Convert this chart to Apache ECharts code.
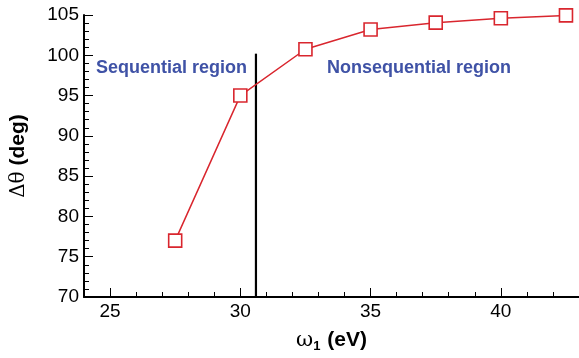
<!DOCTYPE html>
<html><head><meta charset="utf-8">
<script src="https://cdn.jsdelivr.net/npm/echarts@6/dist/echarts.min.js"></script>
<style>html,body{margin:0;padding:0;background:#fff}#c{width:579px;height:358px}</style>
</head><body><div id="c"></div>
<script>
const omega = [27.5, 30, 32.5, 35, 37.5, 40, 42.5];
const dtheta = [77.0, 95.0, 100.75, 103.2, 104.05, 104.6, 104.95];
const xMajorTicks = [25, 30, 35, 40];
const dividerX = 30.6;
const dividerY = [70, 100.2];
const regionLabels = ['Sequential region', 'Nonsequential region'];
const regionPos = [[27.36, 98.4], [36.86, 98.4]];

const chart = echarts.init(document.getElementById('c'));
const font = 'Liberation Sans, Arial, sans-serif';
chart.setOption({
  animation: false,
  grid: {left: 84, right: -2, top: 15, bottom: 59, containLabel: false},
  xAxis: [{
    type: 'value', min: 24, max: 43, interval: 1,
    axisLine: {show: true, lineStyle: {color: '#000', width: 2}},
    axisTick: {show: true, inside: true, length: 5, lineStyle: {color: '#000', width: 1}},
    axisLabel: {show: false},
    splitLine: {show: false},
    name: '{w|ω}{s|1}{b| (eV)}', nameLocation: 'middle', nameGap: 31,
    nameTextStyle: {rich: {
      w: {fontFamily: 'DejaVu Serif, Liberation Serif, serif', fontSize: 21, color: '#000'},
      s: {fontFamily: font, fontWeight: 'bold', fontSize: 13, color: '#000', verticalAlign: 'bottom', padding: [12, 1, 0, 0]},
      b: {fontFamily: font, fontWeight: 'bold', fontSize: 21, color: '#000'}
    }}
  }, {
    type: 'value', min: 24, max: 43, position: 'bottom',
    axisLine: {show: false},
    axisTick: {show: true, inside: true, length: 9, customValues: xMajorTicks, lineStyle: {color: '#000', width: 1}},
    axisLabel: {show: true, customValues: xMajorTicks, fontFamily: font, fontSize: 19, color: '#000', margin: 5},
    splitLine: {show: false}
  }],
  yAxis: {
    type: 'value', min: 70, max: 105, interval: 5,
    axisLine: {show: true, lineStyle: {color: '#000', width: 2}},
    axisTick: {show: true, inside: true, length: 9, lineStyle: {color: '#000', width: 1}},
    minorTick: {show: true, splitNumber: 5, length: 5, lineStyle: {color: '#000', width: 1}},
    axisLabel: {fontFamily: font, fontSize: 19, color: '#000', margin: 5},
    splitLine: {show: false},
    name: '{d|Δθ}{b| (deg)}', nameLocation: 'middle', nameRotate: 90, nameGap: 55,
    nameTextStyle: {rich: {
      d: {fontFamily: 'DejaVu Serif, Liberation Serif, serif', fontSize: 20, color: '#000'},
      b: {fontFamily: font, fontWeight: 'bold', fontSize: 21, color: '#000'}
    }}
  },
  series: [{
    type: 'line', data: omega.map((x, i) => [x, dtheta[i]]),
    symbol: 'rect', symbolSize: 13,
    itemStyle: {color: '#fff', borderColor: '#d9262e', borderWidth: 1.6},
    lineStyle: {color: '#d9262e', width: 1.5}, z: 3
  }, {
    type: 'line', data: dividerY.map(y => [dividerX, y]),
    symbol: 'none', lineStyle: {color: '#000', width: 2.2}, z: 2
  }, {
    type: 'scatter', symbolSize: 0, itemStyle: {opacity: 1},
    data: regionPos.map((p, i) => ({value: p, label: {formatter: regionLabels[i]}})),
    label: {show: true, position: 'inside', fontFamily: font, fontWeight: 'bold', fontSize: 18, color: '#3f52a6', opacity: 1}
  }]
});
</script></body></html>
